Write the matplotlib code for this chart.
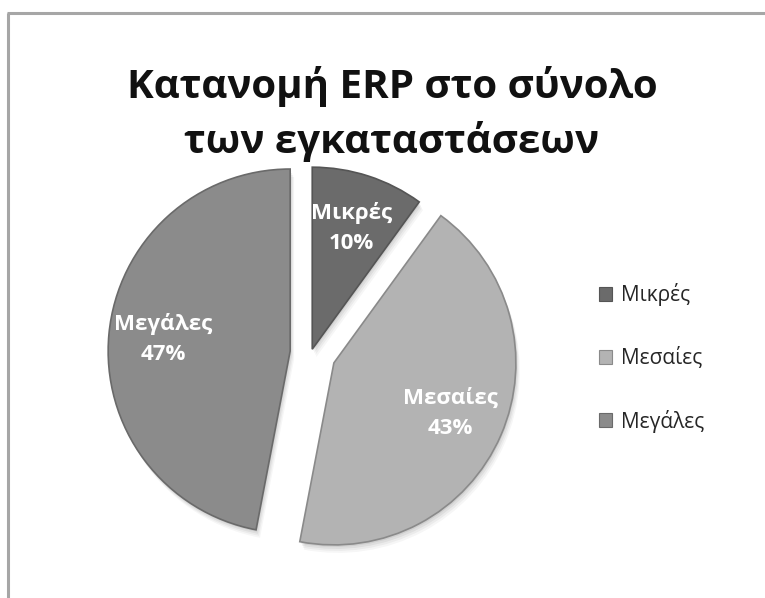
import matplotlib
matplotlib.use("Agg")
import matplotlib.pyplot as plt
from matplotlib.patches import Patch
from matplotlib.lines import Line2D

plt.rcParams['font.family'] = ['Open Sans', 'DejaVu Sans']

# Data
categories = ["Μικρές", "Μεσαίες", "Μεγάλες"]
shares = [10, 43, 47]
title_text = "Κατανομή ERP στο σύνολο\nτων εγκαταστάσεων"

colors = ["#6b6b6b", "#b3b3b3", "#8b8b8b"]
edges = ["#555555", "#8a8a8a", "#6a6a6a"]

W, H = 765, 598
cx, cy, R = 311, H - 353, 182
# slice offsets as a fraction of the radius (pie() takes them in data units)
explode_frac = [0.022, 0.137, 0.115]
explode = [f * R for f in explode_frac]

fig = plt.figure(figsize=(W / 100, H / 100), dpi=100)
fig.patch.set_facecolor("white")
ax = fig.add_axes([0, 0, 1, 1])
ax.set_xlim(0, W)
ax.set_ylim(0, H)
ax.set_aspect("equal")
ax.axis("off")

# Chart-area frame (top and left sides visible)
ax.add_line(Line2D([8, 8], [0, H - 13], color="#a6a6a6", lw=2.2, solid_capstyle="butt"))
ax.add_line(Line2D([7, W], [H - 13, H - 13], color="#a6a6a6", lw=2.2, solid_capstyle="butt"))

# Soft drop shadow under the slices
for k, a in [(8, 0.035), (6, 0.045), (4, 0.055), (2, 0.065)]:
    ax.pie(shares, radius=R, center=(cx + k * 0.5, cy - k), startangle=90,
           counterclock=False, explode=explode, colors=["#000000"] * 3,
           wedgeprops=dict(linewidth=0, alpha=a), frame=True)

counter = iter(range(len(shares)))

def label_for(pct):
    i = next(counter)
    return f"{categories[i]}\n{pct:.0f}%"

wedges, texts, autotexts = ax.pie(
    shares, radius=R, center=(cx, cy), startangle=90, counterclock=False,
    explode=explode, colors=colors, autopct=label_for, pctdistance=0.7,
    wedgeprops=dict(linewidth=1.2), frame=True,
    textprops=dict(color="white", fontsize=16, fontweight="bold",
                   linespacing=1.55))
for w, ec in zip(wedges, edges):
    w.set_edgecolor(ec)
for t in autotexts:
    t.set_ha("center")
    t.set_va("center")

ax.set_xlim(0, W)
ax.set_ylim(0, H)
ax.axis("off")

ax.text(392, H - 114, title_text, ha="center", va="center", fontsize=29,
        fontweight="bold", color="#111111", linespacing=1.45)

handles = [Patch(facecolor=c, edgecolor=e, linewidth=0.8) for c, e in zip(colors, edges)]
leg = ax.legend(handles, categories, loc="center left",
                bbox_to_anchor=(580 / W, 1 - 358 / H), frameon=False,
                fontsize=15, labelspacing=1.95, handlelength=0.65,
                handleheight=0.65, handletextpad=0.4)
for t in leg.get_texts():
    t.set_color("#262626")

fig.savefig("out.png", dpi=100, facecolor="white")
